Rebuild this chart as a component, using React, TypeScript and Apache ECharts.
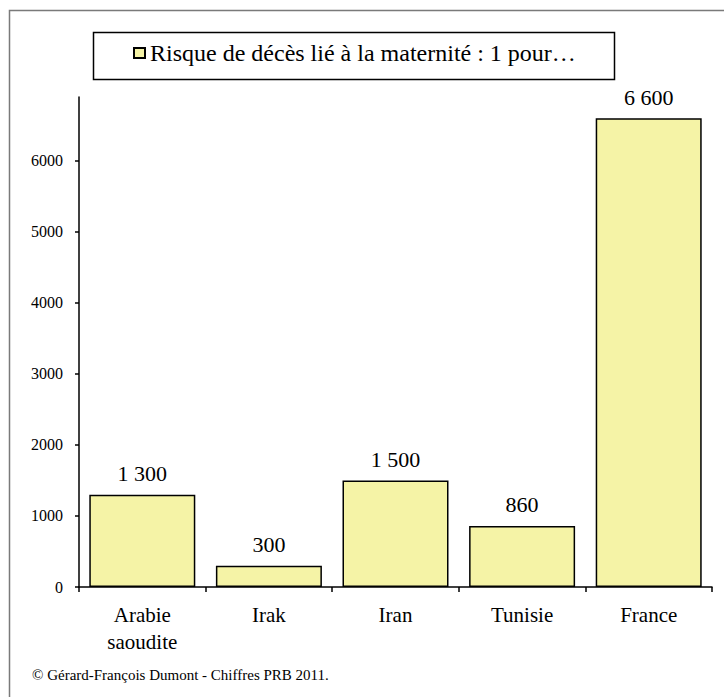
import React, { useEffect, useRef } from "react";
import * as echarts from "echarts";

const categories = ["Arabie\nsaoudite", "Irak", "Iran", "Tunisie", "France"];
const riskValues = [1300, 300, 1500, 860, 6600];
const yTickValues = [0, 1000, 2000, 3000, 4000, 5000, 6000];
const seriesName = "Risque de décès lié à la maternité : 1 pour…";
const sourceNote = "© Gérard-François Dumont - Chiffres PRB 2011.";

const FONT = "Liberation Serif, serif";

function fmt(v: number): string {
  return String(v).replace(/\B(?=(\d{3})+(?!\d))/g, " ");
}

export default function App() {
  const ref = useRef<HTMLDivElement>(null);

  useEffect(() => {
    if (!ref.current) return;
    const chart = echarts.init(ref.current, undefined, { renderer: "svg" });
    chart.setOption({
      animation: false,
      backgroundColor: "#ffffff",
      textStyle: { fontFamily: FONT, color: "#000" },
      grid: { left: 79, right: 12, top: 97, bottom: 110, containLabel: false },
      legend: {
        show: true,
        left: 133,
        top: 41,
        padding: 0,
        itemWidth: 11,
        itemHeight: 10,
        icon: "rect",
        textStyle: { fontFamily: FONT, fontSize: 24, color: "#000" },
        data: [seriesName],
      },
      graphic: [
        {
          type: "rect",
          left: 7,
          top: 8,
          shape: { width: 900, height: 900 },
          style: { fill: "none", stroke: "#7a7a7a", lineWidth: 1.5 },
          silent: true,
        },
        {
          type: "rect",
          left: 91,
          top: 30,
          shape: { width: 521, height: 47 },
          style: { fill: "none", stroke: "#000", lineWidth: 1.5 },
          silent: true,
        },
        {
          type: "text",
          left: 32,
          top: 667,
          style: { text: sourceNote, fontFamily: FONT, fontSize: 15, fill: "#000" },
        },
      ],
      xAxis: {
        type: "category",
        data: categories,
        boundaryGap: true,
        axisLine: { lineStyle: { color: "#000", width: 1.5 } },
        axisTick: { show: true, length: 5, alignWithLabel: false, interval: 0, lineStyle: { color: "#000", width: 1.5 } },
        axisLabel: {
          interval: 0,
          margin: 14,
          fontFamily: FONT,
          fontSize: 21,
          lineHeight: 27,
          color: "#000",
        },
        splitLine: { show: false },
      },
      yAxis: {
        type: "value",
        min: 0,
        max: 6900,
        interval: 1000,
        axisLine: { show: true, lineStyle: { color: "#000", width: 1.5 } },
        axisTick: { show: true, length: 4, customValues: yTickValues, lineStyle: { color: "#000", width: 1.5 } },
        axisLabel: {
          customValues: yTickValues,
          margin: 16,
          fontFamily: FONT,
          fontSize: 16,
          color: "#000",
          formatter: (v: number) => String(v),
        },
        splitLine: { show: false },
      },
      series: [
        {
          name: seriesName,
          type: "bar",
          data: riskValues,
          barWidth: 106,
          itemStyle: { color: "#f5f3a6", borderColor: "#000", borderWidth: 1.5 },
          label: {
            show: true,
            position: "top",
            distance: 10,
            fontFamily: FONT,
            fontSize: 22,
            lineHeight: 22,
            color: "#000",
            formatter: (p: any) => fmt(p.value),
          },
        },
      ],
    });
    return () => chart.dispose();
  }, []);

  return (
    <div
      ref={ref}
      style={{ position: "absolute", left: 0, top: 0, width: 724, height: 697 }}
    />
  );
}
